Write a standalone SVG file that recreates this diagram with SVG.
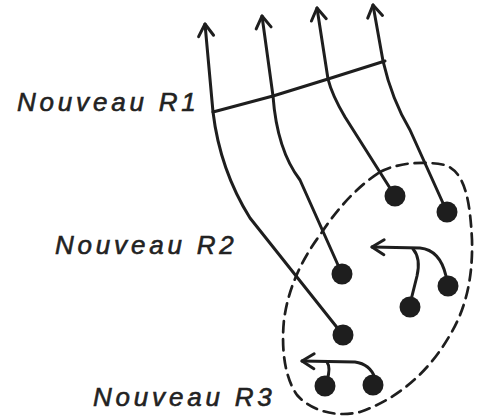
<svg xmlns="http://www.w3.org/2000/svg" width="485" height="418" viewBox="0 0 485 418">
  <style>
    .ln { fill: none; stroke: #1e1e1e; stroke-width: 3; stroke-linecap: round; stroke-linejoin: round; }
    .dash { fill: none; stroke: #1e1e1e; stroke-width: 2.7; stroke-dasharray: 11 7; stroke-linecap: round; }
    .dot { fill: #1e1e1e; }
    .lbl { font-family: "Liberation Sans", Arial, sans-serif; font-style: italic; font-size: 26px; letter-spacing: 3.8px; fill: #222; stroke: #222; stroke-width: 0.6px; }
  </style>
  <defs>
    <marker id="head" markerUnits="userSpaceOnUse" markerWidth="30" markerHeight="30" refX="0" refY="0" viewBox="-15 -15 30 30" orient="auto-start-reverse">
      <path d="M-12,-7.5 L0,0 L-12,7.5" fill="none" stroke="#1e1e1e" stroke-width="3" stroke-linecap="round" stroke-linejoin="round"/>
    </marker>
  </defs>

  <rect width="485" height="418" fill="#ffffff"/>

  <!-- dashed boundary around the lower groups -->
  <g id="boundary">
    <path class="dash" d="M380,172 C395,164 420,160 445,165 C465,172 470,200 472,240 C473,280 465,310 450,335 C430,370 400,398 360,412 C335,418 310,410 297,395 C285,378 281,350 284,320 C288,290 300,262 320,235 C335,212 355,188 380,172 Z"/>
  </g>

  <!-- connectors -->
  <g id="connectors">
    <!-- crossbar of the first level -->
    <path class="ln" d="M213,112 L273,96 L328,79 L385,61"/>
    <!-- four rising lines -->
    <path class="ln" marker-start="url(#head)" d="M205,24 L213,112 Q220,170 250,218 L343,335"/>
    <path class="ln" marker-start="url(#head)" d="M262,16 L273,96 Q277,150 300,180 L342,274"/>
    <path class="ln" marker-start="url(#head)" d="M317,8 L328,79 Q332,95 345,117 L395,196"/>
    <path class="ln" marker-start="url(#head)" d="M373,5 L383,61 Q392,100 410,130 L447,212"/>
    <!-- curved arrow, second level -->
    <path class="ln" marker-start="url(#head)" d="M372,247 L420,248 Q440,250 446,276"/>
    <path class="ln" d="M413,249 Q421,258 417,276 L411,300"/>
    <!-- curved arrow, third level -->
    <path class="ln" marker-start="url(#head)" d="M302,361 L355,362 Q370,364 375,378"/>
    <path class="ln" d="M327,362 Q331,368 327,380"/>
  </g>

  <!-- dots -->
  <g id="n1"><circle class="dot" cx="395" cy="196" r="10.5"/></g>
  <g id="n2"><circle class="dot" cx="447" cy="212" r="10.5"/></g>
  <g id="n3"><circle class="dot" cx="342" cy="274" r="10.5"/></g>
  <g id="n4"><circle class="dot" cx="448" cy="286" r="10.5"/></g>
  <g id="n5"><circle class="dot" cx="410" cy="307" r="10.5"/></g>
  <g id="n6"><circle class="dot" cx="343" cy="335" r="10.5"/></g>
  <g id="n7"><circle class="dot" cx="325" cy="386" r="10.5"/></g>
  <g id="n8"><circle class="dot" cx="373" cy="385" r="10.5"/></g>

  <!-- level labels -->
  <g id="label-r1"><text class="lbl" x="17" y="111">Nouveau R1</text></g>
  <g id="label-r2"><text class="lbl" x="55" y="254">Nouveau R2</text></g>
  <g id="label-r3"><text class="lbl" x="93" y="406">Nouveau R3</text></g>
</svg>
